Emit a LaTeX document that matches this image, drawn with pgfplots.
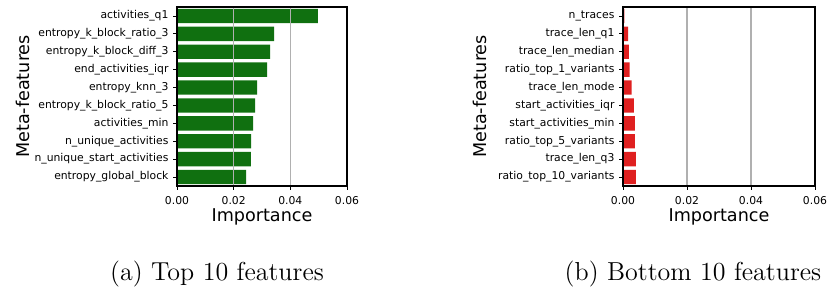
\documentclass[border=0pt]{standalone}
\usepackage{pgfplots}
\pgfplotsset{compat=1.18}
\usepackage{fontspec}
\newfontfamily\dejavu{DejaVu Sans}
\definecolor{bargreen}{HTML}{107010}
\definecolor{barred}{HTML}{DF2020}
\definecolor{gridgray}{HTML}{B0B0B0}
\pgfplotsset{fi/.style={
  scale only axis, height=89.5pt,
  xbar, bar width=0.8, bar shift=0pt,
  xmin=0, xmax=0.06, ymin=-0.5, ymax=9.5, y dir=reverse,
  xtick={0,0.02,0.04,0.06}, xticklabels={0.00,0.02,0.04,0.06},
  ytick={0,...,9},
  xmajorgrids, major grid style={gridgray, line width=0.6pt},
  axis on top,
  tick align=outside, major tick length=1.75pt,
  tick style={black, line width=0.4pt},
  axis line style={black, line width=0.6pt},
  ticklabel style={font=\dejavu\fontsize{5.4}{6}\selectfont},
  yticklabel style={xshift=1pt},
  label style={font=\dejavu\fontsize{8.8}{10}\selectfont},
  xlabel={Importance}, ylabel={Meta-features},
  xlabel style={at={(axis description cs:0.5,0)}, anchor=center, yshift=-15.3pt},
  xtick pos=left, ytick pos=left,
  scaled x ticks=false,
  anchor=south west,
}}
\begin{document}
\begin{tikzpicture}
\path[use as bounding box] (0,0) rectangle (413.5pt,145.5pt);
\begin{axis}[fi, width=85pt, at={(88.5pt,52.5pt)},
  ylabel style={at={(axis description cs:-0.906,0.5)}, anchor=center},
  yticklabels={activities\_q1, entropy\_k\_block\_ratio\_3, entropy\_k\_block\_diff\_3, end\_activities\_iqr, entropy\_knn\_3, entropy\_k\_block\_ratio\_5, activities\_min, n\_unique\_activities, n\_unique\_start\_activities, entropy\_global\_block}]
\addplot[fill=bargreen, draw=none] coordinates {
(0.0497,0) (0.0343,1) (0.0329,2) (0.0318,3) (0.0283,4)
(0.0276,5) (0.0269,6) (0.0262,7) (0.0261,8) (0.0244,9)};
\end{axis}
\begin{axis}[fi, width=96pt, at={(311.5pt,52.5pt)},
  ylabel style={at={(axis description cs:-0.745,0.5)}, anchor=center},
  yticklabels={n\_traces, trace\_len\_q1, trace\_len\_median, ratio\_top\_1\_variants, trace\_len\_mode, start\_activities\_iqr, start\_activities\_min, ratio\_top\_5\_variants, trace\_len\_q3, ratio\_top\_10\_variants}]
\addplot[fill=barred, draw=none] coordinates {
(0.0004,0) (0.0016,1) (0.0018,2) (0.0021,3) (0.0027,4)
(0.0034,5) (0.0037,6) (0.0037,7) (0.0040,8) (0.0040,9)};
\end{axis}
\node[font=\fontsize{13}{15}\selectfont] at (108.5pt,8.5pt) {(a) Top 10 features};
\node[font=\fontsize{13}{15}\selectfont] at (346.5pt,8.5pt) {(b) Bottom 10 features};
\end{tikzpicture}
\end{document}
